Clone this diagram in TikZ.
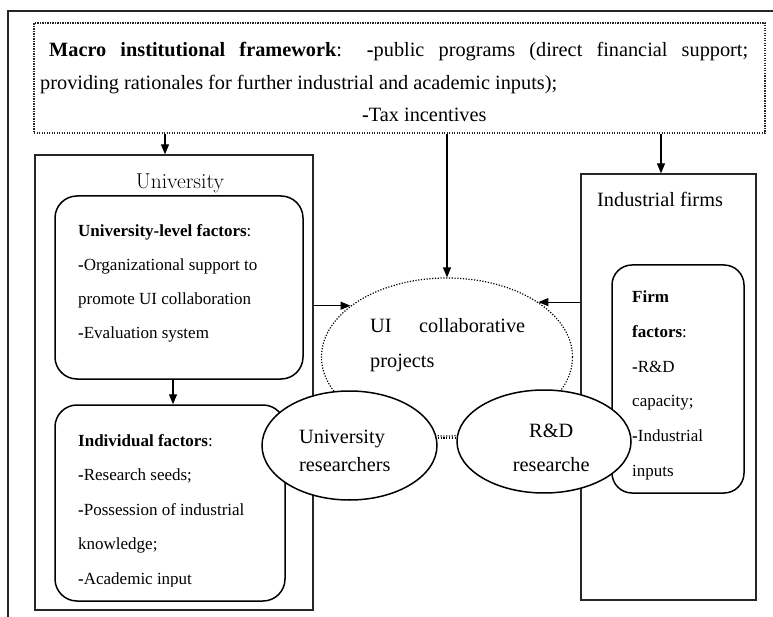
\documentclass[tikz,border=0pt]{standalone}
\usepackage{fontspec}
\setmainfont{Liberation Serif}
\newfontfamily\lmfont{Latin Modern Roman}
\usetikzlibrary{arrows.meta,shapes.geometric}
\tikzset{
  frameline/.style={draw=black!85, line width=1.4pt},
  sqbox/.style={rectangle, draw=black!85, line width=1.3pt, inner sep=0pt},
  rbox/.style={rectangle, draw=black, line width=1.5pt, rounded corners=22pt, inner sep=0pt},
  oval/.style={ellipse, draw=black, line width=1.5pt, fill=white, inner sep=0pt},
  dotoval/.style={ellipse, draw=black, line width=1.2pt, dash pattern=on 1.2pt off 1.6pt, inner sep=0pt},
  dotbox/.style={rectangle, draw=black!85, line width=1.1pt, dash pattern=on 1.1pt off 1.4pt, inner sep=0pt},
  dotline/.style={line width=1.2pt, dash pattern=on 1.2pt off 1.6pt},
  arr/.style={line width=1.2pt, -{Triangle[length=10pt,width=8pt]}},
  txt/.style={inner sep=0pt, anchor=base west},
  big/.style={font=\fontsize{20.3}{34}\selectfont},
  small/.style={font=\fontsize{17}{34.4}\selectfont}
}
\begin{document}
\begin{tikzpicture}[x=1pt,y=-1pt]
\useasboundingbox (0,0) rectangle (773,617);
% outer frame (partly outside picture)
\draw[frameline] (8,617) -- (8,11) -- (773,11);

% boxes
\node[dotbox, minimum width=731pt, minimum height=110pt] (macro) at (399.5,78) {};
\node[sqbox, minimum width=278pt, minimum height=455pt] (univ) at (174,382.5) {};
\node[rbox, minimum width=248pt, minimum height=183pt] (ulf) at (179,287.5) {};
\node[rbox, minimum width=230pt, minimum height=196pt] (ind) at (170,503) {};
\node[sqbox, minimum width=175pt, minimum height=426pt] (firm) at (668.5,387) {};
\node[rbox, rounded corners=20pt, minimum width=132pt, minimum height=228pt] (ff) at (678,379) {};

% collaborative projects
\node[dotoval, minimum width=251pt, minimum height=158pt] (ui) at (447,357) {};
\node[oval, minimum width=175pt, minimum height=109pt] (ur) at (349.5,445.5) {};
\node[oval, minimum width=174pt, minimum height=103pt] (rd) at (544,441.5) {};

% connectors
\draw[arr] (165,0 |- macro.south) -- (165,0 |- univ.north);
\draw[arr] (ui.north |- macro.south) -- (ui.north);
\draw[arr] (661,0 |- macro.south) -- (661,0 |- firm.north);
\draw[arr] (univ.east |- ui.152) -- (ui.152);
\draw[arr] (firm.west |- ui.31) -- (ui.31);
\draw[arr] (173,0 |- ulf.south) -- (173,0 |- ind.north);
\draw[dotline] (ur.east |- 0,438) -- (rd.west |- 0,438);

% texts
\node[txt] (macrotext) at (40,57) {\parbox[t]{708pt}{\fontsize{20.3}{32.5}\selectfont
  \hspace*{9pt}\textbf{Macro institutional framework}: \textbf{-}public programs (direct financial support;\linebreak
  providing rationales for further industrial and academic inputs);\\
  \hspace*{322pt}\textbf{-}Tax incentives}};

\node[inner sep=0pt, anchor=base] (univlabel) at (180,189) {\lmfont\fontsize{21.5}{24}\selectfont University};

\node[txt] (ulftext) at (78,237) {\parbox[t]{222pt}{\fontsize{17}{34}\selectfont
  \textbf{University-level factors}:\\
  \textbf{-}Organizational support to\\
  promote UI collaboration\\
  \textbf{-}Evaluation system}};

\begin{scope}
\clip (55,405) rectangle (285,586);
\node[txt] (indtext) at (78,446) {\parbox[t]{200pt}{\fontsize{17}{34.5}\selectfont
  \textbf{Individual factors}:\\
  \textbf{-}Research seeds;\\
  \textbf{-}Possession of industrial\\
  knowledge;\\
  \textbf{-}Academic input}};
\end{scope}

\node[txt, big] (firmlabel) at (597,207) {Industrial firms};

\node[txt] (fftext) at (632,303) {\parbox[t]{110pt}{\fontsize{17}{34.6}\selectfont
  \textbf{Firm}\\
  \textbf{factors}:\\
  \textbf{-}R\&D\\
  capacity;\\
  \textbf{-}Industrial\\
  inputs}};

\node[txt] (uitext) at (370,333) {\parbox[t]{160pt}{\fontsize{20.3}{34}\selectfont
  \makebox[155pt][s]{UI collaborative}\\
  projects}};

\node[txt] (urtext) at (299,443) {\parbox[t]{110pt}{\fontsize{20.3}{28}\selectfont
  University\\
  researchers}};

\node[txt] (rdtext) at (501,437) {\parbox[t]{100pt}{\centering\fontsize{20.3}{34}\selectfont
  R\&D\\
  researche}};
\end{tikzpicture}
\end{document}
